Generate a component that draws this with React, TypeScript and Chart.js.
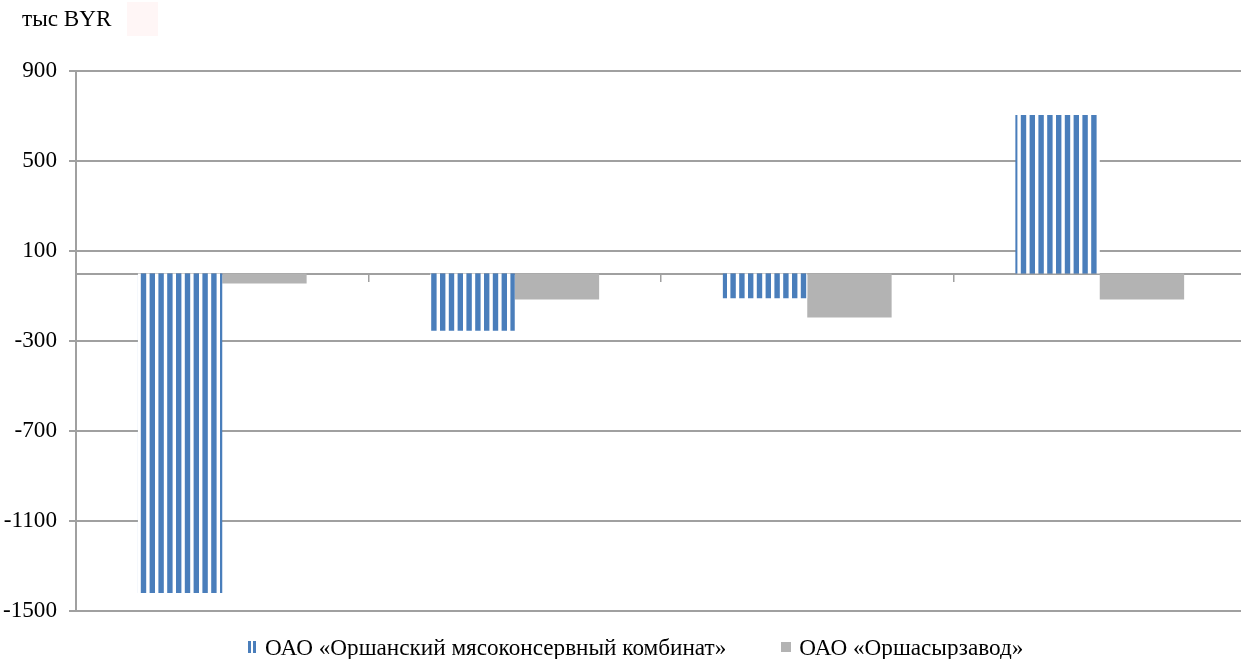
import React, { useEffect, useRef } from "react";
import { Chart, registerables } from "chart.js";

Chart.register(...registerables);

const CATEGORIES = ["1", "2", "3", "4"];
const SERIES_NAMES = [
  "ОАО «Оршанский мясоконсервный комбинат»",
  "ОАО «Оршасырзавод»",
];
const MEAT_VALUES = [-1420, -254, -110, 705];
const CHEESE_VALUES = [-44, -115, -196, -115];
const Y_MIN = -1500;
const Y_MAX = 900;
const Y_STEP = 400;
const UNIT_LABEL = "тыс BYR";

const BLUE = "#4a7ebb";
const GRAY = "#b3b3b3";
const GRID = "#a0a0a0";
const FONT = "'Liberation Serif', 'Times New Roman', serif";
const FONT_SIZE = 23.2;

function makeStripePattern(ctx: CanvasRenderingContext2D): CanvasPattern | string {
  const c = document.createElement("canvas");
  const period = 8.8;
  const n = 5;
  c.width = Math.round(period * n);
  c.height = 8;
  const p = c.getContext("2d");
  if (!p) return BLUE;
  p.fillStyle = "#ffffff";
  p.fillRect(0, 0, c.width, c.height);
  for (let i = 0; i < n; i++) {
    p.fillStyle = BLUE;
    p.fillRect(i * period, 0, 5.4, c.height);
  }
  return ctx.createPattern(c, "repeat") || BLUE;
}

export default function App() {
  const ref = useRef<HTMLCanvasElement | null>(null);

  useEffect(() => {
    document.body.style.margin = "0";
    const canvas = ref.current;
    if (!canvas) return;
    const ctx = canvas.getContext("2d");
    if (!ctx) return;
    const pattern = makeStripePattern(ctx);

    const chart = new Chart(canvas, {
      type: "bar",
      data: {
        labels: CATEGORIES,
        datasets: [
          {
            label: SERIES_NAMES[0],
            data: MEAT_VALUES,
            backgroundColor: pattern as any,
            borderWidth: 0,
            categoryPercentage: 0.577,
            barPercentage: 1.0,
          },
          {
            label: SERIES_NAMES[1],
            data: CHEESE_VALUES,
            backgroundColor: GRAY,
            borderWidth: 0,
            categoryPercentage: 0.577,
            barPercentage: 1.0,
          },
        ],
      },
      options: {
        responsive: false,
        animation: false,
        devicePixelRatio: 1,
        layout: { padding: { top: 71, bottom: 48, left: 0, right: 0 } },
        plugins: {
          legend: { display: false },
          tooltip: { enabled: false },
          title: { display: false },
        },
        scales: {
          x: {
            type: "category",
            position: { y: 0 } as any,
            ticks: { display: false },
            grid: {
              display: true,
              offset: true,
              drawOnChartArea: false,
              drawTicks: true,
              tickLength: 7,
              color: GRID,
              lineWidth: 1.5,
            },
            border: { display: true, color: GRID, width: 2 },
          },
          y: {
            min: Y_MIN,
            max: Y_MAX,
            ticks: {
              stepSize: Y_STEP,
              padding: 12,
              color: "#000",
              font: { family: FONT, size: FONT_SIZE },
              callback: (v: any) => String(v),
            },
            grid: {
              color: GRID,
              lineWidth: 2,
              drawTicks: true,
              tickLength: 7,
            },
            border: { display: true, color: GRID, width: 2 },
            afterFit: (scale: any) => {
              scale.width = 76;
            },
          },
        },
      },
    });
    return () => chart.destroy();
  }, []);

  const legendText: React.CSSProperties = {
    fontFamily: FONT,
    fontSize: FONT_SIZE,
    color: "#000",
    whiteSpace: "nowrap",
    lineHeight: "24px",
  };

  return (
    <div style={{ position: "fixed", left: 0, top: 0, width: 1241, height: 659, background: "#fff", overflow: "hidden" }}>
      <canvas ref={ref} width={1246} height={659} style={{ position: "absolute", left: 0, top: 0 }} />
      <div
        style={{
          position: "absolute",
          left: 127,
          top: 2,
          width: 31,
          height: 34,
          background: "#fff6f6",
        }}
      />
      <div
        style={{
          position: "absolute",
          left: 22,
          top: 6,
          fontFamily: FONT,
          fontSize: FONT_SIZE,
          color: "#000",
          lineHeight: "24px",
        }}
      >
        {UNIT_LABEL}
      </div>
      <div
        style={{
          position: "absolute",
          left: 248,
          top: 635,
          display: "flex",
          alignItems: "center",
        }}
      >
        <div
          style={{
            width: 8,
            height: 12,
            background: `repeating-linear-gradient(90deg, ${BLUE} 0px, ${BLUE} 3px, #fff 3px, #fff 5px)`,
            marginRight: 9,
          }}
        />
        <span style={legendText}>{SERIES_NAMES[0]}</span>
        <div style={{ width: 10, height: 10, background: GRAY, marginLeft: 55, marginRight: 8 }} />
        <span style={legendText}>{SERIES_NAMES[1]}</span>
      </div>
    </div>
  );
}
